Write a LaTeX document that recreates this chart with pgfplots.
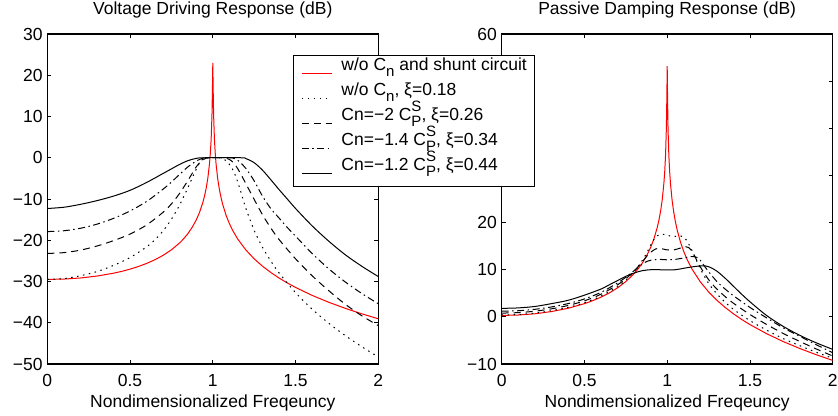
\documentclass[border=0pt]{standalone}
\usepackage{fontspec}
\setmainfont{Liberation Sans}
\usepackage{pgfplots}
\pgfplotsset{compat=1.18}
\newcommand{\fs}{\fontsize{17.5}{20}\selectfont}
\newcommand{\sfs}{\fontsize{15}{15}\selectfont}
\newcommand{\Cn}{C\raisebox{-0.32em}[0pt][0pt]{\sfs n}}
\newcommand{\CPS}{C\rlap{\raisebox{0.5em}[0pt][0pt]{\sfs S}}\raisebox{-0.32em}[0pt][0pt]{\sfs P}}
\pgfplotsset{
 myax/.style={scale only axis, width=331pt, height=330pt, xmin=0, xmax=2,
  xtick={0,0.5,1,1.5,2}, xticklabels={0,0.5,1,1.5,2},
  tick align=inside, tick pos=both, major tick length=4pt,
  axis line style={line width=1.1pt},
  every tick/.style={black, line width=0.9pt},
  tick label style={font=\fs, inner sep=0pt},
  xticklabel style={anchor=north, yshift=-10pt},
  yticklabel style={anchor=east, xshift=-4.6pt},
  title style={font=\fs, at={(axis description cs:0.5,1)}, anchor=base, yshift=14pt, inner sep=0pt},
  xlabel style={font=\fs, at={(axis description cs:0.5,0)}, anchor=base, yshift=-43pt, inner sep=0pt},
  xlabel={Nondimensionalized Freqeuncy},
  every axis plot/.append style={line width=1pt},
 },
 dotsty/.style={black, dash pattern=on 1.5pt off 4.5pt},
 dashsty/.style={black, dash pattern=on 7pt off 5pt},
 dashdotsty/.style={black, dash pattern=on 7pt off 3.5pt on 1.5pt off 3.5pt},
 solsty/.style={black, solid},
}
\begin{document}
\begin{tikzpicture}
\path[use as bounding box] (0,0) rectangle (838pt,415pt);
% ---------------- right axis (drawn first, legend of left axis lies on top)
\begin{axis}[myax, at={(501.7pt,51pt)}, anchor=south west,
  ymin=-10, ymax=60, ytick={-10,0,10,20,30,40,50,60},
  yticklabels={−10,0,10,20,30,40,50,60},
  title={Passive Damping Response (dB)}]
\addplot[red] coordinates {(0,0.3)(0.1,0.39)(0.2,0.65)(0.3,1.12)(0.4,1.81)(0.5,2.8)(0.55,3.43)(0.6,4.18)(0.65,5.07)(0.7,6.15)(0.75,7.48)(0.8,9.17)(0.825,10.21)(0.85,11.43)(0.875,12.92)(0.9,14.72)(0.92,16.57)(0.94,18.98)(0.95,20.52)(0.96,22.41)(0.97,24.87)(0.98,28.35)(0.985,30.82)(0.99,34.26)(0.995,40.1)(0.998,47.0)(1.0,53.2)(1.002,47.0)(1.005,40.0)(1.01,34.18)(1.015,30.69)(1.02,28.17)(1.03,24.61)(1.04,22.07)(1.05,20.09)(1.06,18.46)(1.08,15.88)(1.1,13.86)(1.12,12.19)(1.15,10.13)(1.2,7.43)(1.25,5.3)(1.3,3.52)(1.35,2.0)(1.4,0.65)(1.45,-0.55)(1.5,-1.64)(1.6,-3.56)(1.7,-5.23)(1.8,-6.7)(1.9,-8.03)(2.0,-9.24)};
\addplot[dotsty, smooth] coordinates {(0,0.4)(0.1,0.5)(0.2,0.8)(0.3,1.3)(0.4,2.0)(0.5,3.0)(0.6,4.4)(0.7,6.4)(0.75,7.8)(0.8,9.6)(0.85,12.0)(0.88,13.8)(0.9,15.2)(0.92,16.4)(0.94,17.2)(0.96,17.5)(0.98,17.5)(1.0,17.3)(1.03,17.1)(1.06,17.1)(1.08,17.2)(1.1,16.9)(1.12,16.1)(1.14,14.8)(1.16,13.3)(1.18,11.7)(1.2,10.2)(1.25,7.1)(1.3,4.9)(1.35,3.1)(1.4,1.6)(1.5,-0.8)(1.6,-2.8)(1.7,-4.6)(1.8,-6.1)(1.9,-7.5)(2.0,-8.8)};
\addplot[dashsty, smooth] coordinates {(0,0.8)(0.1,0.9)(0.2,1.2)(0.3,1.7)(0.4,2.4)(0.5,3.4)(0.6,4.8)(0.7,6.8)(0.75,8.1)(0.8,9.7)(0.85,11.7)(0.88,13.0)(0.9,13.7)(0.93,14.4)(0.96,14.5)(1.0,14.2)(1.04,14.2)(1.08,14.6)(1.11,14.9)(1.13,14.7)(1.15,13.9)(1.17,12.6)(1.2,10.6)(1.25,7.9)(1.3,5.9)(1.35,4.3)(1.4,2.9)(1.5,0.5)(1.6,-1.6)(1.7,-3.5)(1.8,-5.2)(1.9,-6.8)(2.0,-8.3)};
\addplot[dashdotsty, smooth] coordinates {(0,1.2)(0.1,1.3)(0.2,1.6)(0.3,2.1)(0.4,2.8)(0.5,3.8)(0.6,5.2)(0.7,7.2)(0.75,8.4)(0.8,9.8)(0.85,11.2)(0.88,11.8)(0.9,12.0)(0.95,12.2)(1.0,12.1)(1.05,12.2)(1.1,12.5)(1.15,12.8)(1.18,12.6)(1.2,12.0)(1.22,11.0)(1.25,9.6)(1.3,7.5)(1.35,5.9)(1.4,4.5)(1.5,2.0)(1.6,-0.2)(1.7,-2.3)(1.8,-4.1)(1.9,-5.9)(2.0,-7.6)};
\addplot[solsty, smooth] coordinates {(0,1.8)(0.1,1.9)(0.2,2.2)(0.3,2.8)(0.4,3.5)(0.5,4.6)(0.6,5.9)(0.65,6.8)(0.7,7.7)(0.75,8.6)(0.8,9.3)(0.85,9.8)(0.9,10.0)(0.95,10.0)(1.0,9.95)(1.05,10.0)(1.1,10.3)(1.15,10.6)(1.2,10.8)(1.23,10.8)(1.26,10.5)(1.3,9.7)(1.35,8.2)(1.4,6.5)(1.45,4.8)(1.5,3.2)(1.6,0.3)(1.7,-2.0)(1.8,-3.9)(1.9,-5.5)(2.0,-6.9)};
\end{axis}
% ---------------- left axis
\begin{axis}[myax, at={(47.3pt,51pt)}, anchor=south west,
  ymin=-50, ymax=30, ytick={-50,-40,-30,-20,-10,0,10,20,30},
  yticklabels={−50,−40,−30,−20,−10,0,10,20,30},
  title={Voltage Driving Response (dB)},
  legend cell align=left,
  legend style={at={(0.742,0.936)}, anchor=north west, draw=black, line width=1.1pt, fill=white, font=\fs,
    inner xsep=8pt, inner ysep=3pt, row sep=0pt,
    nodes={inner sep=0pt, text height=12pt, text depth=13pt}},
  legend image code/.code={\draw[#1, line width=1pt] (0pt,-2pt) -- (30pt,-2pt);},
  /tikz/every odd column/.append style={column sep=9pt},
  ]
\addplot[red] coordinates {(0,-29.5)(0.1,-29.41)(0.2,-29.15)(0.3,-28.68)(0.4,-27.99)(0.45,-27.54)(0.5,-27.0)(0.55,-26.37)(0.6,-25.62)(0.65,-24.73)(0.7,-23.65)(0.75,-22.32)(0.8,-20.63)(0.825,-19.59)(0.85,-18.37)(0.875,-16.88)(0.9,-15.08)(0.92,-13.23)(0.94,-10.82)(0.95,-9.28)(0.96,-7.39)(0.97,-4.93)(0.98,-1.45)(0.985,1.02)(0.99,4.46)(0.995,10.3)(0.998,17.2)(1.0,23.0)(1.002,17.2)(1.005,10.2)(1.01,4.38)(1.015,0.89)(1.02,-1.63)(1.03,-5.19)(1.04,-7.73)(1.05,-9.71)(1.06,-11.34)(1.08,-13.92)(1.1,-15.94)(1.12,-17.61)(1.15,-19.67)(1.2,-22.37)(1.25,-24.5)(1.3,-26.28)(1.35,-27.8)(1.4,-29.15)(1.45,-30.35)(1.5,-31.44)(1.6,-33.36)(1.7,-35.03)(1.8,-36.5)(1.9,-37.83)(2.0,-39.04)};
\addlegendentry{w/o \Cn\ and shunt circuit\hspace{21pt}}
\addplot[dotsty, smooth] coordinates {(0,-29.5)(0.1,-29.3)(0.2,-28.6)(0.3,-27.6)(0.4,-26.1)(0.5,-24.2)(0.6,-21.6)(0.65,-19.9)(0.7,-17.7)(0.75,-14.9)(0.8,-11.4)(0.85,-7.2)(0.88,-4.5)(0.9,-2.8)(0.92,-1.2)(0.94,-0.3)(0.96,0)(1.0,0)(1.04,0)(1.06,-0.2)(1.08,-0.7)(1.1,-1.6)(1.125,-3.2)(1.15,-5.8)(1.175,-9.0)(1.2,-12.3)(1.25,-17.6)(1.3,-21.7)(1.35,-25.0)(1.4,-27.9)(1.5,-32.7)(1.6,-36.7)(1.7,-40.1)(1.8,-43.1)(1.9,-45.8)(2.0,-48.3)};
\addlegendentry{w/o \Cn, ξ=0.18}
\addplot[dashsty, smooth] coordinates {(0,-23.2)(0.1,-23.0)(0.2,-22.4)(0.3,-21.4)(0.4,-20.1)(0.5,-18.5)(0.6,-16.3)(0.7,-13.2)(0.75,-11.2)(0.8,-8.6)(0.85,-5.5)(0.88,-3.5)(0.9,-2.2)(0.93,-0.8)(0.96,-0.1)(0.98,0)(1.05,0)(1.08,-0.1)(1.1,-0.4)(1.125,-1.2)(1.15,-2.6)(1.175,-4.4)(1.2,-6.3)(1.25,-10.1)(1.3,-13.8)(1.35,-17.0)(1.4,-19.8)(1.5,-24.5)(1.6,-28.6)(1.7,-32.2)(1.8,-35.5)(1.9,-38.3)(2.0,-40.7)};
\addlegendentry{Cn=−2 \CPS, ξ=0.26}
\addplot[dashdotsty, smooth] coordinates {(0,-17.9)(0.1,-17.7)(0.2,-17.1)(0.3,-16.1)(0.4,-14.7)(0.5,-12.9)(0.6,-10.6)(0.7,-7.6)(0.75,-5.9)(0.8,-4.0)(0.85,-2.2)(0.9,-0.8)(0.94,-0.1)(0.97,0)(1.1,0)(1.13,-0.2)(1.16,-0.9)(1.2,-2.6)(1.25,-5.6)(1.3,-9.3)(1.35,-12.3)(1.4,-14.6)(1.45,-16.9)(1.5,-19.0)(1.6,-23.2)(1.7,-26.9)(1.8,-30.1)(1.9,-32.9)(2.0,-35.4)};
\addlegendentry{Cn=−1.4 \CPS, ξ=0.34}
\addplot[solsty, smooth] coordinates {(0,-12.3)(0.1,-12.0)(0.2,-11.3)(0.3,-10.4)(0.4,-9.3)(0.5,-7.9)(0.6,-6.0)(0.7,-3.8)(0.75,-2.7)(0.8,-1.6)(0.85,-0.7)(0.9,-0.15)(0.95,0)(1.17,0)(1.2,-0.2)(1.25,-1.2)(1.3,-3.0)(1.35,-5.3)(1.4,-7.7)(1.45,-10.0)(1.5,-12.3)(1.6,-16.5)(1.7,-20.2)(1.8,-23.5)(1.9,-26.3)(2.0,-28.8)};
\addlegendentry{Cn=−1.2 \CPS, ξ=0.44}
\end{axis}
\end{tikzpicture}
\end{document}
